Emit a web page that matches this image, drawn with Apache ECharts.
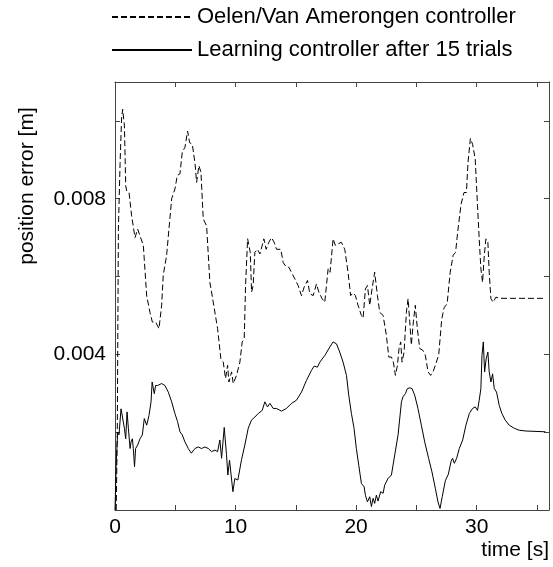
<!DOCTYPE html>
<html>
<head>
<meta charset="utf-8">
<script src="https://cdn.jsdelivr.net/npm/echarts@6/dist/echarts.min.js"></script>
<style>
  html, body { margin: 0; padding: 0; background: #fff; }
  #chart { width: 553px; height: 567px; }
</style>
</head>
<body>
<div id="chart"></div>
<script>
/* position error vs time, two controllers */

// series names (legend)
var seriesNames = ['Oelen/Van Amerongen controller', 'Learning controller after 15 trials'];

// x tick labels that are shown (others only get a tick mark)
var xTickLabels = [0, 10, 20, 30];
var yTickLabels = [0.004, 0.008];

// dashed curve: time [s] / error [mm]
var timeDashed = [0.1, 0.19, 0.28, 0.42, 0.55, 0.64, 0.78, 0.89, 0.97, 1.16, 1.38, 1.66, 1.88, 2.07, 2.35, 2.63, 2.9, 3.1, 3.37, 3.65,
    3.87, 4.0, 4.28, 4.7, 4.97, 5.17, 5.39, 5.58, 5.8, 6.02, 6.19, 6.41, 6.63, 6.77, 6.96, 7.13, 7.32, 7.6, 7.87, 8.15,
    8.51, 8.78, 8.98, 9.17, 9.34, 9.45, 9.67, 9.81, 10.08, 10.36, 10.55, 10.72, 10.83, 11.0, 11.1, 11.22, 11.33, 11.46, 11.6, 11.82,
    12.02, 12.21, 12.35, 12.54, 12.76, 12.98, 13.2, 13.4, 13.75, 13.95, 14.22, 14.42, 14.64, 14.92, 15.19, 15.47, 15.69, 15.97, 16.16, 16.44,
    16.71, 16.91, 17.18, 17.4, 17.68, 17.84, 18.09, 18.28, 18.5, 18.78, 19.06, 19.33, 19.55, 19.75, 19.94, 20.16, 20.44, 20.58, 20.77, 20.94,
    21.13, 21.32, 21.54, 21.77, 21.96, 22.24, 22.51, 22.71, 22.93, 23.09, 23.26, 23.43, 23.56, 23.7, 23.81, 23.98, 24.17, 24.31, 24.45, 24.58,
    24.75, 24.91, 25.08, 25.28, 25.55, 25.74, 25.97, 26.18, 26.38, 26.57, 26.85, 27.1, 27.3, 27.55, 27.8, 28.05, 28.25, 28.42, 28.7, 28.95,
    29.15, 29.28, 29.48, 29.66, 29.88, 30.07, 30.21, 30.35, 30.49, 30.63, 30.77, 30.93, 31.04, 31.18, 31.37, 31.59, 31.73, 32.0, 35.7];
var errDashed = [0.0, 2.0, 7.2, 8.9, 10.1, 10.3, 9.87, 8.33, 8.2, 8.17, 7.56, 7.0, 7.22, 7.05, 6.8, 5.5, 5.08, 4.83, 4.83, 4.66,
    5.26, 6.03, 6.54, 8.0, 8.25, 8.6, 8.64, 9.2, 9.32, 9.74, 9.44, 9.4, 8.93, 8.42, 8.85, 8.68, 7.48, 7.3, 5.85, 5.34,
    4.66, 3.89, 3.8, 3.38, 3.72, 3.29, 3.55, 3.25, 3.46, 3.8, 4.32, 4.4, 5.77, 6.97, 7.0, 6.62, 5.6, 5.77, 6.62, 6.7,
    6.58, 6.8, 6.97, 6.7, 6.88, 7.0, 6.88, 6.7, 6.7, 6.36, 6.24, 6.24, 6.11, 5.94, 5.77, 5.51, 5.73, 5.9, 5.56, 5.51,
    5.81, 5.6, 5.43, 5.34, 6.2, 6.11, 6.97, 6.8, 6.84, 6.88, 6.7, 6.11, 5.51, 5.58, 5.51, 5.26, 5.0, 4.93, 5.68, 5.77,
    5.26, 5.68, 6.11, 5.51, 5.08, 5.0, 4.49, 3.93, 3.93, 3.8, 3.46, 3.72, 4.15, 4.32, 3.8, 4.06, 5.08, 5.43, 4.84, 4.24,
    4.84, 5.26, 4.66, 4.15, 4.1, 3.98, 3.55, 3.46, 3.55, 3.72, 3.98, 4.9, 5.2, 5.3, 6.1, 6.55, 6.62, 7.13, 7.85, 8.16,
    8.16, 8.93, 9.55, 9.4, 9.02, 7.82, 6.97, 6.2, 5.85, 6.54, 6.97, 6.88, 6.11, 5.43, 5.34, 5.47, 5.43, 5.44, 5.44];

// solid curve: time [s] / error [mm]
var timeSolid = [0.0, 0.1, 0.22, 0.33, 0.5, 0.61, 0.78, 0.89, 1.0, 1.11, 1.25, 1.33, 1.44, 1.52, 1.62, 1.71, 1.88, 2.07, 2.27, 2.43,
    2.63, 2.82, 2.99, 3.08, 3.26, 3.37, 3.54, 3.87, 4.14, 4.42, 4.7, 4.97, 5.19, 5.39, 5.58, 5.8, 6.08, 6.33, 6.63, 6.91,
    7.18, 7.46, 7.74, 8.01, 8.29, 8.51, 8.7, 8.84, 9.06, 9.25, 9.36, 9.5, 9.78, 9.94, 10.19, 10.5, 10.77, 11.05, 11.32, 11.6,
    11.88, 12.21, 12.43, 12.65, 12.85, 13.12, 13.4, 13.81, 14.22, 14.64, 15.05, 15.47, 15.88, 16.3, 16.52, 16.79, 16.99, 17.4, 17.82, 18.09,
    18.37, 18.64, 18.92, 19.2, 19.39, 19.61, 19.83, 20.02, 20.22, 20.44, 20.66, 20.77, 20.94, 21.13, 21.27, 21.41, 21.54, 21.68, 21.82, 22.04,
    22.24, 22.37, 22.65, 22.93, 23.2, 23.48, 23.76, 23.89, 24.09, 24.25, 24.45, 24.64, 24.86, 25.13, 25.41, 25.69, 26.02, 26.29, 26.57, 26.79,
    26.96, 27.15, 27.4, 27.65, 27.87, 28.0, 28.15, 28.34, 28.56, 28.84, 29.11, 29.39, 29.66, 29.88, 30.07, 30.21, 30.35, 30.44, 30.55, 30.66,
    30.79, 30.93, 31.04, 31.18, 31.32, 31.46, 31.65, 31.87, 32.09, 32.37, 32.7, 33.12, 33.53, 34.08, 35.7];
var errSolid = [0.0, 1.2, 2.0, 1.93, 2.6, 2.65, 2.1, 1.83, 2.52, 2.1, 1.58, 1.75, 1.83, 1.58, 1.11, 1.58, 1.67, 1.83, 1.93, 2.35,
    2.18, 2.43, 2.78, 3.29, 2.99, 3.2, 3.2, 3.25, 3.2, 3.03, 2.78, 2.48, 2.27, 2.01, 1.93, 1.75, 1.58, 1.46, 1.58, 1.62,
    1.58, 1.62, 1.58, 1.5, 1.54, 1.5, 1.8, 1.33, 2.12, 1.42, 0.9, 1.28, 0.47, 0.81, 0.77, 1.3, 1.67, 2.1, 2.31, 2.39,
    2.48, 2.56, 2.78, 2.65, 2.74, 2.61, 2.61, 2.54, 2.61, 2.74, 2.82, 3.03, 3.33, 3.59, 3.7, 3.67, 3.8, 3.97, 4.19, 4.32,
    4.27, 4.06, 3.8, 3.46, 2.95, 2.48, 2.1, 1.58, 1.15, 0.68, 0.6, 0.38, 0.21, 0.34, 0.09, 0.3, 0.17, 0.38, 0.23, 0.47,
    0.43, 0.64, 0.81, 0.9, 1.41, 1.93, 2.78, 2.91, 2.99, 3.12, 3.14, 3.12, 2.95, 2.61, 2.18, 1.75, 1.32, 0.98, 0.56, 0.21,
    0.04, 0.35, 0.75, 0.92, 1.24, 1.33, 1.2, 1.33, 1.58, 1.8, 2.18, 2.48, 2.61, 2.65, 2.56, 2.82, 3.12, 3.97, 4.32, 3.55,
    3.89, 4.06, 3.55, 3.29, 3.5, 3.12, 3.03, 2.69, 2.48, 2.31, 2.18, 2.1, 2.05, 2.03, 2.01];

// mm -> m, pairs for the value axis
function toPairs(ts, es) {
    var arr = [];
    for (var i = 0; i < ts.length; i++) {
        arr.push([ts[i], es[i] / 1000]);
    }
    return arr;
}

var font = 'Liberation Sans, Arial, sans-serif';
var fontSize = 21;
var axisColor = '#444';

var dom = document.getElementById('chart');
var myChart = echarts.init(dom, null, { renderer: 'canvas' });

var option = {
    animation: false,
    backgroundColor: '#fff',
    textStyle: { fontFamily: font },
    grid: { left: 115, right: 4, top: 82, bottom: 57, containLabel: false },
    legend: {
        orient: 'vertical',
        left: 111,
        top: 6,
        padding: 0,
        itemWidth: 80,
        itemHeight: 18,
        itemGap: 11,
        itemStyle: { opacity: 0 },
        data: seriesNames,
        textStyle: { fontSize: 22, color: '#000', fontFamily: font, lineHeight: 18 }
    },
    xAxis: [{
        type: 'value',
        min: 0,
        max: 36,
        interval: 5,
        name: 'time [s]',
        nameLocation: 'end',
        nameGap: 0,
        nameTextStyle: { fontSize: fontSize, color: '#000', align: 'right', verticalAlign: 'top', padding: [30, 0, 0, 0] },
        splitLine: { show: false },
        axisLine: { lineStyle: { color: axisColor, width: 1 } },
        axisTick: { inside: true, length: 5, lineStyle: { color: axisColor } },
        axisLabel: {
            fontSize: fontSize,
            color: '#000',
            margin: 7,
            showMaxLabel: false,
            formatter: function (v) {
                return xTickLabels.indexOf(v) >= 0 ? String(v) : '';
            }
        }
    }, {
        // top frame with mirrored ticks
        type: 'value',
        position: 'top',
        min: 0,
        max: 36,
        interval: 5,
        splitLine: { show: false },
        axisLine: { onZero: false, lineStyle: { color: axisColor, width: 1 } },
        axisTick: { inside: true, length: 5, lineStyle: { color: axisColor } },
        axisLabel: { show: false }
    }],
    yAxis: [{
        type: 'value',
        min: 0,
        max: 0.011,
        interval: 0.002,
        splitLine: { show: false },
        axisLine: { show: true, lineStyle: { color: axisColor, width: 1 } },
        axisTick: { show: true, inside: true, length: 5, lineStyle: { color: axisColor } },
        axisLabel: {
            fontSize: fontSize,
            color: '#000',
            margin: 9,
            showMaxLabel: false,
            formatter: function (v) {
                for (var i = 0; i < yTickLabels.length; i++) {
                    if (Math.abs(v - yTickLabels[i]) < 1e-9) return yTickLabels[i].toFixed(3);
                }
                return '';
            }
        }
    }, {
        // right frame with mirrored ticks
        type: 'value',
        position: 'right',
        min: 0,
        max: 0.011,
        interval: 0.002,
        splitLine: { show: false },
        axisLine: { show: true, onZero: false, lineStyle: { color: axisColor, width: 1 } },
        axisTick: { show: true, inside: true, length: 5, lineStyle: { color: axisColor } },
        axisLabel: { show: false }
    }],
    graphic: [{
        // y axis title, rotated, sits above the middle of the axis
        type: 'text',
        x: 27,
        y: 186,
        rotation: Math.PI / 2,
        style: {
            text: 'position error [m]',
            font: fontSize + 'px ' + font,
            fill: '#000',
            textAlign: 'center',
            textVerticalAlign: 'middle'
        }
    }],
    series: [{
        name: seriesNames[0],
        type: 'line',
        symbol: 'none',
        data: toPairs(timeDashed, errDashed),
        lineStyle: { color: '#000', width: 1, type: [6, 3] },
        itemStyle: { color: '#000' }
    }, {
        name: seriesNames[1],
        type: 'line',
        symbol: 'none',
        data: toPairs(timeSolid, errSolid),
        lineStyle: { color: '#000', width: 1 },
        itemStyle: { color: '#000' }
    }]
};

myChart.setOption(option);
</script>
</body>
</html>
